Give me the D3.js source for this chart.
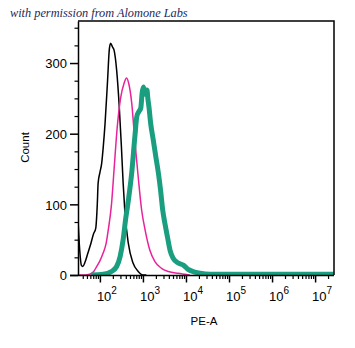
<!DOCTYPE html>
<html>
<head>
<meta charset="utf-8">
<script src="https://cdn.jsdelivr.net/npm/d3@7"></script>
<style>
  html, body { margin: 0; padding: 0; background: #fff; }
  svg { display: block; }
  text { font-family: "Liberation Sans", Arial, sans-serif; fill: #000; }
</style>
</head>
<body>
<svg id="chart" width="355" height="348"></svg>
<script>
// PE-A fluorescence histogram, three overlaid populations: [PE-A value, event count]
const controlHist = [
  [31, 78], [34, 35], [37, 14], [40, 12], [45, 18], [52, 30], [60, 42], [71, 58],
  [80, 66], [87, 100], [91, 130], [100, 145], [110, 158], [120, 182], [132, 215],
  [151, 276], [166, 320], [178, 328], [195, 323], [214, 318], [245, 290], [282, 238],
  [316, 182], [347, 130], [380, 90], [457, 45], [589, 17], [776, 5], [1000, 0], [1200, 0]
];
const isotypeHist = [
  [33, 0], [45, 0], [58, 1], [72, 5], [84, 12], [100, 20], [119, 31], [140, 45],
  [155, 62], [186, 100], [214, 150], [251, 207], [302, 250], [363, 271], [417, 279],
  [468, 271], [550, 243], [646, 191], [776, 139], [933, 92], [1122, 64], [1450, 35],
  [1900, 19], [2700, 9.5], [3900, 5], [6600, 2.4], [9500, 1], [12300, 0]
];
const stainedHist = [
  [63, 0], [119, 1], [186, 5], [245, 12], [295, 26], [347, 50], [398, 80], [457, 105],
  [550, 145], [650, 196], [725, 225], [800, 231], [890, 236], [960, 258], [1030, 266],
  [1110, 256], [1180, 257], [1240, 262], [1300, 250], [1380, 238], [1510, 215],
  [1740, 191], [2000, 167], [2290, 144], [2570, 120], [2880, 92], [3240, 73],
  [3710, 54], [4270, 35], [5010, 24], [6610, 17], [8710, 14], [11200, 8], [16200, 4],
  [21300, 2.4], [36300, 1], [27000000, 1]
];
const yTicks = [0, 100, 200, 300];
const xDecades = [2, 3, 4, 5, 6, 7];

const colors = { control: "#000000", isotype: "#e8239a", stained: "#1a9e80" };

const plot = { left: 78, right: 334, top: 21, bottom: 275 };
const svg = d3.select("#chart");

const x = d3.scaleLog().domain([31, 27500000]).range([plot.left, plot.right]);
const y = d3.scaleLinear().domain([0, 359.5]).range([plot.bottom, plot.top]);

// Credit line
svg.append("text")
  .attr("x", 10).attr("y", 17)
  .style("font-family", "'Liberation Serif', 'DejaVu Serif', serif")
  .style("font-style", "italic")
  .style("font-size", "12.3px")
  .style("fill", "#1b2a5c")
  .text("with permission from Alomone Labs");

// Histogram curves, clipped to the plot area
svg.append("clipPath").attr("id", "plot-clip")
  .append("rect")
  .attr("x", plot.left).attr("y", plot.top)
  .attr("width", plot.right - plot.left).attr("height", plot.bottom - plot.top);

const line = d3.line()
  .x(d => x(d[0]))
  .y(d => y(d[1]))
  .curve(d3.curveMonotoneX);

const curves = svg.append("g").attr("clip-path", "url(#plot-clip)");
[
  { data: controlHist, color: colors.control, width: 1.5 },
  { data: isotypeHist, color: colors.isotype, width: 1.5 },
  { data: stainedHist, color: colors.stained, width: 5 }
].forEach(s => {
  curves.append("path")
    .datum(s.data)
    .attr("fill", "none")
    .attr("stroke", s.color)
    .attr("stroke-width", s.width)
    .attr("stroke-linejoin", "round")
    .attr("d", line);
});

// Frame (top and right edges)
svg.append("path")
  .attr("d", `M${plot.left},${plot.top}H${plot.right}V${plot.bottom}`)
  .attr("fill", "none").attr("stroke", "#000").attr("stroke-width", 1.5);

// Y axis: major ticks every 100, minor every 25
const yMinor = d3.range(0, 351, 25).filter(v => !yTicks.includes(v));
const yAxisMajor = d3.axisLeft(y).tickValues(yTicks).tickSize(8).tickPadding(3).tickSizeOuter(0);
const yAxisMinor = d3.axisLeft(y).tickValues(yMinor).tickSize(3.5).tickFormat("").tickSizeOuter(0);

svg.append("g").attr("transform", `translate(${plot.left},0)`).call(yAxisMinor)
  .call(g => g.select(".domain").remove())
  .call(g => g.selectAll("line").attr("stroke-width", 1.2));
const gy = svg.append("g").attr("transform", `translate(${plot.left},0)`).call(yAxisMajor);
gy.select(".domain").attr("stroke-width", 1.5);
gy.selectAll("line").attr("stroke-width", 1.5);
gy.selectAll("text").style("font-size", "13px").attr("dy", "0.36em");

// X axis: decades labelled as powers of ten, minor ticks at 2..9 of each decade
const xMajor = xDecades.map(p => Math.pow(10, p));
const xMinor = [];
for (let p = 1; p <= 7; p++) {
  for (let m = 2; m <= 9; m++) {
    const v = m * Math.pow(10, p);
    if (v >= x.domain()[0] && v <= x.domain()[1]) xMinor.push(v);
  }
}
const gxMinor = svg.append("g").attr("transform", `translate(0,${plot.bottom})`)
  .call(d3.axisBottom(x).tickValues(xMinor).tickSize(4).tickFormat("").tickSizeOuter(0));
gxMinor.select(".domain").remove();
gxMinor.selectAll("line").attr("stroke-width", 1.2);

const gx = svg.append("g").attr("transform", `translate(0,${plot.bottom})`)
  .call(d3.axisBottom(x).tickValues(xMajor).tickSize(7.5).tickFormat("").tickSizeOuter(0));
gx.select(".domain").attr("stroke-width", 1.5).attr("d", `M${plot.left - 8},0.5H${plot.right}`);
gx.selectAll("line").attr("stroke-width", 1.5);

const labels = gx.selectAll(".tick").append("text")
  .attr("x", -3.5).attr("y", 25.5)
  .attr("text-anchor", "start")
  .style("font-size", "13px");
labels.append("tspan").text("10");
labels.append("tspan")
  .attr("dy", "-7")
  .style("font-size", "10px")
  .text((d, i) => xDecades[i]);

// Axis titles
svg.append("text")
  .attr("x", 204).attr("y", 325)
  .attr("text-anchor", "middle")
  .style("font-size", "11.5px")
  .text("PE-A");

svg.append("text")
  .attr("transform", "translate(29,147.5) rotate(-90)")
  .attr("text-anchor", "middle")
  .style("font-size", "11.5px")
  .text("Count");
</script>
</body>
</html>
